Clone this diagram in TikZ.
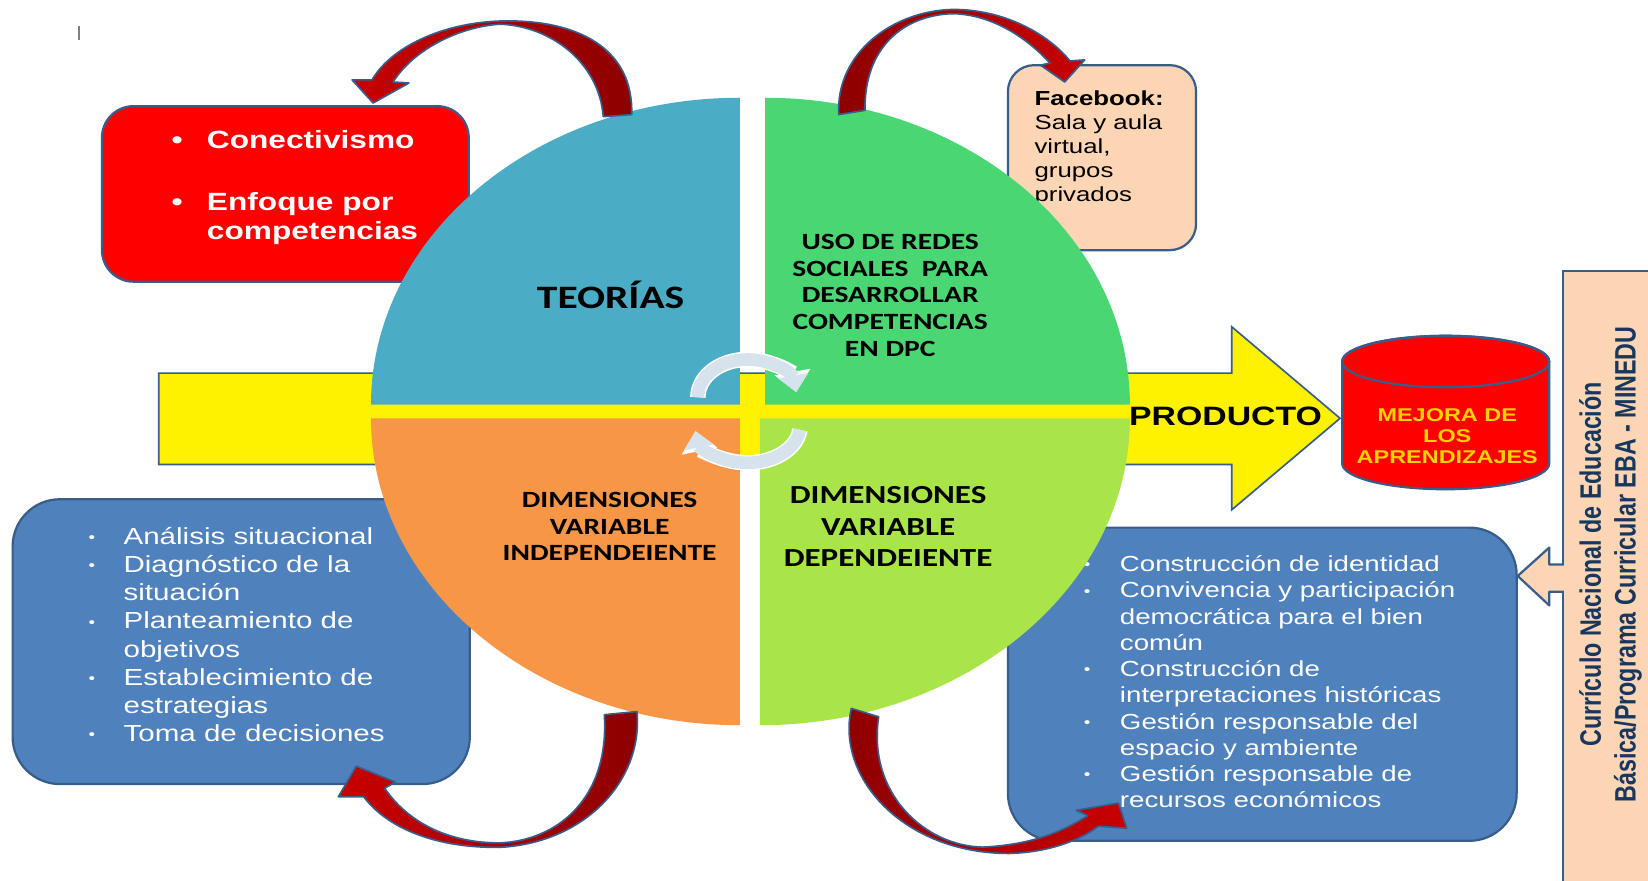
\documentclass[tikz,border=0pt]{standalone}
\usepackage{fontspec}
\setmainfont{Liberation Sans}[FakeStretch=1.27]
\newfontfamily\calibri{Carlito}[FakeStretch=1.27]
\newfontfamily\arialplain{Liberation Sans}
\usetikzlibrary{arrows.meta}
\definecolor{borde}{RGB}{56,93,138}
\definecolor{teorias}{RGB}{75,172,198}
\definecolor{redes}{RGB}{74,214,115}
\definecolor{indep}{RGB}{247,150,70}
\definecolor{dep}{RGB}{169,229,72}
\definecolor{azul}{RGB}{79,129,189}
\definecolor{durazno}{RGB}{252,213,181}
\definecolor{rojoclaro}{RGB}{200,0,0}
\definecolor{rojooscuro}{RGB}{140,0,0}
\definecolor{celeste}{RGB}{214,227,236}
\definecolor{marino}{RGB}{23,55,94}
\definecolor{dorado}{RGB}{255,210,0}
\newcommand{\puntito}{\raisebox{1pt}{\fontsize{8}{8}\selectfont •}}

\begin{document}
\begin{tikzpicture}[x=0.02cm, y=0.02cm,
	caja/.style={draw=borde, line width=1.2pt},
	media/.style={draw=borde, line width=0.9pt, line join=round},
	lista/.style={anchor=base west, inner sep=0pt, text=white},
	titulo/.style={font=\calibri\bfseries, align=center, inner sep=0pt},
	giro/.style={line width=6.8pt, draw=celeste, -{Triangle[width=16pt,length=9pt]}},
	girofondo/.style={line width=8.4pt, draw=white, -{Triangle[width=19pt,length=11pt]}}
	]
				\useasboundingbox (0,0) rectangle (1568,-838);
				\clip (0,0) rectangle (1568,-838);
				\draw[gray, line width=0.8pt] (75,-25) -- (75,-38);
				% cajas
				\draw[caja, fill=red, rounded corners=0.6cm] (97,-101) rectangle (446,-268);
				\node[lista, font=\bfseries\fontsize{13.5}{15.3}\selectfont] (teoriaslista) at (163,-141)
					{\begin{tabular}[t]{@{}l@{\hspace{0.46cm}}l@{}}
					• & Conectivismo\\[18.7pt]
					• & Enfoque por\\
					& competencias
					\end{tabular}};
				\draw[caja, fill=durazno, rounded corners=0.5cm] (959,-62) rectangle (1138,-238);
				\node[anchor=base west, inner sep=0pt, font=\fontsize{11}{13}\selectfont] (facebook) at (984,-100)
					{\begin{tabular}[t]{@{}l@{}}
					\textbf{Facebook:}\\
					Sala y aula\\
					virtual,\\
					grupos\\
					privados
					\end{tabular}};
				\draw[caja, fill=azul, rounded corners=0.9cm] (12,-475) rectangle (447,-746);
				\node[lista, font=\fontsize{12.6}{15.25}\selectfont] (indeplista) at (84,-518)
					{\begin{tabular}[t]{@{}l@{\hspace{0.54cm}}l@{}}
					\puntito & Análisis situacional\\
					\puntito & Diagnóstico de la\\
					& situación\\
					\puntito & Planteamiento de\\
					& objetivos\\
					\puntito & Establecimiento de\\
					& estrategias\\
					\puntito & Toma de decisiones
					\end{tabular}};
				\draw[caja, fill=azul, rounded corners=0.9cm] (959,-502) rectangle (1443,-800);
				\node[lista, font=\fontsize{11.8}{14.2}\selectfont] (deplista) at (1031,-544)
					{\begin{tabular}[t]{@{}l@{\hspace{0.56cm}}l@{}}
					\puntito & Construcción de identidad\\
					\puntito & Convivencia y participación\\
					& democrática para el bien\\
					& común\\
					\puntito & Construcción de\\
					& interpretaciones históricas\\
					\puntito & Gestión responsable del\\
					& espacio y ambiente\\
					\puntito & Gestión responsable de\\
					& recursos económicos
					\end{tabular}};
				\draw[caja, fill=durazno] (1487,-258) rectangle (1620,-880);
				\fill[durazno] (1492,-537) -- (1474,-537) -- (1474,-521) -- (1444,-548) -- (1474,-576) -- (1474,-563) -- (1492,-563) -- cycle;
				\draw[caja, line join=round] (1488,-537) -- (1474,-537) -- (1474,-521) -- (1444,-548) -- (1474,-576) -- (1474,-563) -- (1488,-563);
				\node[rotate=90, inner sep=0pt, text=marino, font=\arialplain\bfseries\fontsize{12.6}{14.8}\selectfont] (curriculo) at (1533,-537)
					{\scalebox{1}[1.27]{\begin{tabular}{@{}c@{}}
					Currículo Nacional de Educación\\
					Básica/Programa Curricular EBA - MINEDU
					\end{tabular}}};
				% flecha amarilla y producto
				\draw[caja, line width=0.9pt, fill=yellow] (151,-355) -- (1172,-355) -- (1172,-311) -- (1275,-398) -- (1172,-485) -- (1172,-442) -- (151,-442) -- cycle;
				\draw[caja, fill=red] (1277,-344) -- (1277,-441) arc (180:360:98.5 and 24.5) -- (1474,-344) arc (0:180:98.5 and 24.5) -- cycle;
				\draw[caja] (1375.5,-344) ellipse (98.5 and 24.5);
				\node[inner sep=0pt, align=center, text=dorado, font=\bfseries\fontsize{10}{11.3}\selectfont] (mejora) at (1377,-415) {MEJORA DE\\LOS\\APRENDIZAJES};
				% cuadrantes
				\fill[teorias] (704,-385) -- (353,-385) arc (180:90:351 and 292) -- cycle;
				\fill[redes] (728,-385) -- (728,-93) arc (90:0:347 and 292) -- cycle;
				\fill[indep] (704,-398) -- (353,-398) arc (180:270:351 and 292) -- cycle;
				\fill[dep] (723,-398) -- (1075,-398) arc (0:-90:352 and 292) -- cycle;
				\node[titulo, font=\calibri\bfseries\fontsize{17.7}{20}\selectfont] (teoriastxt) at (581,-281) {TEORÍAS};
				\node[titulo, font=\calibri\bfseries\fontsize{12.6}{14.4}\selectfont] (redestxt) at (847,-281)
					{USO DE REDES\\SOCIALES\ \ PARA\\DESARROLLAR\\COMPETENCIAS\\EN DPC};
				\node[titulo, font=\calibri\bfseries\fontsize{12.6}{14.5}\selectfont] (indeptxt) at (580,-501)
					{DIMENSIONES\\VARIABLE\\INDEPENDEIENTE};
				\node[titulo, font=\calibri\bfseries\fontsize{14.1}{17}\selectfont] (deptxt) at (845,-501)
					{DIMENSIONES\\VARIABLE\\DEPENDEIENTE};
				\node[inner sep=0pt, font=\bfseries\fontsize{14.4}{16}\selectfont] (producto) at (1166,-396) {PRODUCTO};
				% giro central
				\draw[girofondo] (664,-378) arc (180:8:47 and 36);
				\draw[giro] (664,-378) arc (180:8:47 and 36);
				\draw[girofondo] (761,-409) arc (-6:-172:50 and 35);
				\draw[giro] (761,-409) arc (-6:-172:50 and 35);
				% flechas curvas
				\draw[media, left color=rojoclaro, right color=rojooscuro]
					(601,-109) .. controls (603,-45) and (548,-18) .. (476,-20)
					.. controls (420,-22) and (372,-45) .. (354,-76)
					-- (335,-76) -- (355,-98) -- (389,-79) -- (374,-78)
					.. controls (395,-45) and (440,-25) .. (476,-23)
					.. controls (525,-25) and (570,-60) .. (574,-111) -- cycle;
				\draw[media, left color=rojooscuro, right color=rojoclaro]
					(798,-109) .. controls (795,-50) and (850,-10) .. (907,-9)
					.. controls (955,-9) and (997,-32) .. (1018,-58)
					-- (1032,-57) -- (1013,-78) -- (990,-62) -- (999,-60)
					.. controls (978,-37) and (945,-14) .. (907,-13)
					.. controls (860,-14) and (822,-45) .. (823,-105) -- cycle;
				\draw[media, left color=rojoclaro, right color=rojooscuro]
					(606,-677) .. controls (612,-740) and (560,-800) .. (479,-806)
					.. controls (420,-808) and (370,-790) .. (346,-758)
					-- (322,-758) -- (339,-729) -- (376,-744) -- (366,-750)
					.. controls (390,-785) and (430,-802) .. (475,-802)
					.. controls (530,-800) and (580,-760) .. (575,-680) -- cycle;
				\draw[media, left color=rojooscuro, right color=rojoclaro]
					(810,-674) .. controls (795,-740) and (860,-812) .. (960,-812)
					.. controls (1000,-811) and (1030,-798) .. (1045,-786)
					-- (1072,-788) -- (1064,-764) -- (1024,-771) -- (1035,-776)
					.. controls (1005,-795) and (975,-804) .. (935,-806)
					.. controls (880,-805) and (825,-755) .. (836,-682) -- cycle;
			\end{tikzpicture}
\end{document}
